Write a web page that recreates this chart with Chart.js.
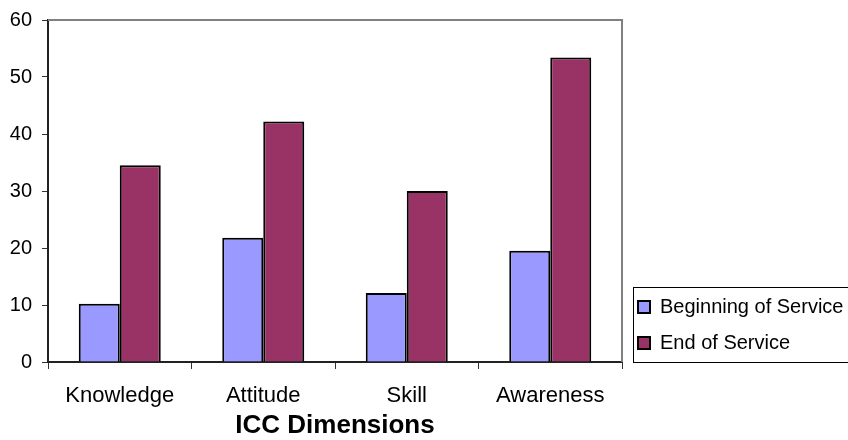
<!DOCTYPE html>
<html><head><meta charset="utf-8">
<script src="https://cdn.jsdelivr.net/npm/chart.js@4/dist/chart.umd.min.js"></script>
<style>html,body{margin:0;padding:0;background:#fff}#wrap{width:848px;height:440px}</style>
</head><body><div id="wrap"><canvas id="c" width="848" height="440"></canvas></div>
<script>
const categories = ["Knowledge", "Attitude", "Skill", "Awareness"];
const beginningOfService = [10.2, 21.8, 12.1, 19.5];
const endOfService = [34.5, 42.2, 30.0, 53.4];
const seriesNames = ["Beginning of Service", "End of Service"];
const yTicks = [0, 10, 20, 30, 40, 50, 60];
const axisTitle = "ICC Dimensions";

const FONT = "'Liberation Sans', Arial, sans-serif";

const frame = {
  id: 'frame',
  afterLayout(chart) {
    const lg = chart.legend;
    if (lg) { lg.bottom = chart.chartArea.bottom + 7; }
  },
  afterDatasetsDraw(chart) {
    const {ctx, chartArea: a} = chart;
    ctx.save();
    ctx.strokeStyle = '#808080';
    ctx.lineWidth = 2;
    ctx.beginPath();
    ctx.moveTo(a.left, a.top);
    ctx.lineTo(a.right, a.top);
    ctx.lineTo(a.right, a.bottom);
    ctx.stroke();
    ctx.restore();
  },
  afterDraw(chart) {
    const lg = chart.legend;
    if (!lg || !lg.legendHitBoxes || !lg.legendHitBoxes.length) return;
    const hb = lg.legendHitBoxes;
    const first = hb[0], last = hb[hb.length - 1];
    const ctx = chart.ctx;
    ctx.save();
    ctx.strokeStyle = '#000';
    ctx.lineWidth = 1;
    const x = Math.round(first.left - 5) + 0.5;
    const y = Math.round(first.top - 10) + 0.5;
    const b = Math.round(last.top + last.height + 9) + 0.5;
    ctx.strokeRect(x, y, chart.width + 20 - x, b - y);
    ctx.restore();
  }
};

new Chart(document.getElementById('c'), {
  type: 'bar',
  data: {
    labels: categories,
    datasets: [
      {label: seriesNames[0], data: beginningOfService, backgroundColor: '#9999FF', borderColor: '#000', borderWidth: 2},
      {label: seriesNames[1], data: endOfService, backgroundColor: '#993366', borderColor: '#000', borderWidth: 2}
    ]
  },
  options: {
    responsive: false,
    animation: false,
    devicePixelRatio: 1,
    categoryPercentage: 2 / 3.5,
    barPercentage: 1.0,
    layout: {padding: {top: 18, left: 0, right: 0, bottom: 0}},
    plugins: {
      legend: {
        position: 'right',
        align: 'end',
        maxWidth: 226,
        labels: {
          boxWidth: 12, boxHeight: 12, padding: 16,
          color: '#000',
          font: {family: FONT, size: 20}
        }
      },
      tooltip: {enabled: false}
    },
    scales: {
      x: {
        afterFit(s) { s.height = 78; },
        grid: {display: true, drawOnChartArea: false, drawTicks: true, tickLength: 7, color: '#333', lineWidth: 1, offset: true},
        border: {display: true, color: '#222', width: 2},
        ticks: {color: '#000', padding: 14, font: {family: FONT, size: 22}},
        title: {display: true, text: axisTitle, color: '#000', font: {family: FONT, size: 26, weight: 'bold'}, padding: {top: 0, bottom: -1}}
      },
      y: {
        min: 0, max: 60,
        afterFit(s) { s.width = 48; },
        afterBuildTicks(s) { s.ticks = yTicks.map(v => ({value: v})); },
        grid: {display: true, drawOnChartArea: false, drawTicks: true, tickLength: 6, color: '#333', lineWidth: 1},
        border: {display: true, color: '#222', width: 2},
        ticks: {color: '#000', padding: 10, font: {family: FONT, size: 20, lineHeight: 1.0}}
      }
    }
  },
  plugins: [frame]
});
</script></body></html>
